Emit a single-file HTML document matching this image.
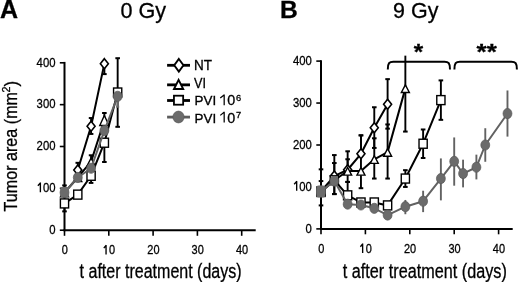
<!DOCTYPE html>
<html><head><meta charset="utf-8"><style>
html,body{margin:0;padding:0;background:#fff;width:520px;height:282px;overflow:hidden}
svg{display:block;will-change:transform}
text{font-family:"Liberation Sans",sans-serif;fill:#000;stroke:#000;stroke-width:0.3px}
</style></head><body>
<svg width="520" height="282" viewBox="0 0 520 282" font-family="Liberation Sans, sans-serif">
<rect width="520" height="282" fill="#fff"/>
<text x="0" y="17.9" font-size="25" text-anchor="start" font-weight="bold">A</text>
<text x="280.1" y="17.6" font-size="24.6" text-anchor="start" font-weight="bold">B</text>
<text x="120.4" y="17.9" font-size="22" text-anchor="start" font-weight="normal" textLength="45.6" lengthAdjust="spacingAndGlyphs">0 Gy</text>
<text x="393.1" y="17.9" font-size="22" text-anchor="start" font-weight="normal" textLength="45.3" lengthAdjust="spacingAndGlyphs">9 Gy</text>
<line x1="64.5" y1="61.9" x2="64.5" y2="231.2" stroke="#000" stroke-width="2"/>
<line x1="63.5" y1="230.2" x2="255.7" y2="230.2" stroke="#000" stroke-width="2"/>
<line x1="59.8" y1="230.2" x2="64.5" y2="230.2" stroke="#000" stroke-width="1.6"/>
<text x="49.2" y="234" font-size="13.6" text-anchor="start" font-weight="normal" textLength="6.3" lengthAdjust="spacingAndGlyphs">0</text>
<line x1="59.8" y1="188.35" x2="64.5" y2="188.35" stroke="#000" stroke-width="1.6"/>
<text x="36.6" y="192.15" font-size="13.6" text-anchor="start" font-weight="normal" textLength="18.9" lengthAdjust="spacingAndGlyphs"> 00</text>
<path d="M40.38,192.15 V182.55 M40.58,182.75 L37.86,185.72" fill="none" stroke="#000" stroke-width="1.35" stroke-linecap="butt"/>
<line x1="59.8" y1="146.5" x2="64.5" y2="146.5" stroke="#000" stroke-width="1.6"/>
<text x="36.6" y="150.3" font-size="13.6" text-anchor="start" font-weight="normal" textLength="18.9" lengthAdjust="spacingAndGlyphs">200</text>
<line x1="59.8" y1="104.65" x2="64.5" y2="104.65" stroke="#000" stroke-width="1.6"/>
<text x="36.6" y="108.45" font-size="13.6" text-anchor="start" font-weight="normal" textLength="18.9" lengthAdjust="spacingAndGlyphs">300</text>
<line x1="59.8" y1="62.8" x2="64.5" y2="62.8" stroke="#000" stroke-width="1.6"/>
<text x="36.6" y="66.6" font-size="13.6" text-anchor="start" font-weight="normal" textLength="18.9" lengthAdjust="spacingAndGlyphs">400</text>
<line x1="64.5" y1="230.2" x2="64.5" y2="235.8" stroke="#000" stroke-width="1.6"/>
<text x="61.75" y="254.4" font-size="13.2" text-anchor="start" font-weight="normal" textLength="6.1" lengthAdjust="spacingAndGlyphs">0</text>
<line x1="108.8" y1="230.2" x2="108.8" y2="235.8" stroke="#000" stroke-width="1.6"/>
<text x="103" y="254.4" font-size="13.2" text-anchor="start" font-weight="normal" textLength="12.2" lengthAdjust="spacingAndGlyphs"> 0</text>
<path d="M106.05,254.4 V245 M106.25,245.2 L103.79,248.1" fill="none" stroke="#000" stroke-width="1.35" stroke-linecap="butt"/>
<line x1="153.1" y1="230.2" x2="153.1" y2="235.8" stroke="#000" stroke-width="1.6"/>
<text x="147.3" y="254.4" font-size="13.2" text-anchor="start" font-weight="normal" textLength="12.2" lengthAdjust="spacingAndGlyphs">20</text>
<line x1="197.4" y1="230.2" x2="197.4" y2="235.8" stroke="#000" stroke-width="1.6"/>
<text x="191.6" y="254.4" font-size="13.2" text-anchor="start" font-weight="normal" textLength="12.2" lengthAdjust="spacingAndGlyphs">30</text>
<line x1="241.7" y1="230.2" x2="241.7" y2="235.8" stroke="#000" stroke-width="1.6"/>
<text x="235.9" y="254.4" font-size="13.2" text-anchor="start" font-weight="normal" textLength="12.2" lengthAdjust="spacingAndGlyphs">40</text>
<line x1="321" y1="60.2" x2="321" y2="229.9" stroke="#000" stroke-width="2"/>
<line x1="320" y1="228.9" x2="512.7" y2="228.9" stroke="#000" stroke-width="2"/>
<line x1="316.3" y1="228.9" x2="321" y2="228.9" stroke="#000" stroke-width="1.6"/>
<text x="305.5" y="232.6" font-size="13.6" text-anchor="start" font-weight="normal" textLength="6.3" lengthAdjust="spacingAndGlyphs">0</text>
<line x1="316.3" y1="186.95" x2="321" y2="186.95" stroke="#000" stroke-width="1.6"/>
<text x="292.9" y="190.65" font-size="13.6" text-anchor="start" font-weight="normal" textLength="18.9" lengthAdjust="spacingAndGlyphs"> 00</text>
<path d="M296.68,190.65 V181.05 M296.88,181.25 L294.16,184.22" fill="none" stroke="#000" stroke-width="1.35" stroke-linecap="butt"/>
<line x1="316.3" y1="145" x2="321" y2="145" stroke="#000" stroke-width="1.6"/>
<text x="292.9" y="148.7" font-size="13.6" text-anchor="start" font-weight="normal" textLength="18.9" lengthAdjust="spacingAndGlyphs">200</text>
<line x1="316.3" y1="103.05" x2="321" y2="103.05" stroke="#000" stroke-width="1.6"/>
<text x="292.9" y="106.75" font-size="13.6" text-anchor="start" font-weight="normal" textLength="18.9" lengthAdjust="spacingAndGlyphs">300</text>
<line x1="316.3" y1="61.1" x2="321" y2="61.1" stroke="#000" stroke-width="1.6"/>
<text x="292.9" y="64.8" font-size="13.6" text-anchor="start" font-weight="normal" textLength="18.9" lengthAdjust="spacingAndGlyphs">400</text>
<line x1="321" y1="228.9" x2="321" y2="234.3" stroke="#000" stroke-width="1.6"/>
<text x="318.25" y="253" font-size="13.2" text-anchor="start" font-weight="normal" textLength="6.1" lengthAdjust="spacingAndGlyphs">0</text>
<line x1="365.4" y1="228.9" x2="365.4" y2="234.3" stroke="#000" stroke-width="1.6"/>
<text x="359.6" y="253" font-size="13.2" text-anchor="start" font-weight="normal" textLength="12.2" lengthAdjust="spacingAndGlyphs"> 0</text>
<path d="M362.65,253 V243.6 M362.85,243.8 L360.39,246.7" fill="none" stroke="#000" stroke-width="1.35" stroke-linecap="butt"/>
<line x1="409.8" y1="228.9" x2="409.8" y2="234.3" stroke="#000" stroke-width="1.6"/>
<text x="404" y="253" font-size="13.2" text-anchor="start" font-weight="normal" textLength="12.2" lengthAdjust="spacingAndGlyphs">20</text>
<line x1="454.2" y1="228.9" x2="454.2" y2="234.3" stroke="#000" stroke-width="1.6"/>
<text x="448.4" y="253" font-size="13.2" text-anchor="start" font-weight="normal" textLength="12.2" lengthAdjust="spacingAndGlyphs">30</text>
<line x1="498.6" y1="228.9" x2="498.6" y2="234.3" stroke="#000" stroke-width="1.6"/>
<text x="492.8" y="253" font-size="13.2" text-anchor="start" font-weight="normal" textLength="12.2" lengthAdjust="spacingAndGlyphs">40</text>
<text x="79.6" y="277.5" font-size="19.5" text-anchor="start" font-weight="normal" textLength="162" lengthAdjust="spacingAndGlyphs">t after treatment (days)</text>
<text x="342.8" y="277.8" font-size="19.5" text-anchor="start" font-weight="normal" textLength="164" lengthAdjust="spacingAndGlyphs">t after treatment (days)</text>
<g transform="translate(16.8,211.4) rotate(-90)"><text x="0" y="0" font-size="19" textLength="119.4" lengthAdjust="spacingAndGlyphs">Tumor area (mm</text><text x="118.8" y="-7.2" font-size="11" textLength="6" lengthAdjust="spacingAndGlyphs">2</text><text x="124.9" y="0" font-size="19" textLength="5.6" lengthAdjust="spacingAndGlyphs">)</text></g>
<line x1="167.1" y1="65.3" x2="190" y2="65.3" stroke="#000" stroke-width="2.8"/>
<polygon points="178.85,58.95 183.45,65.25 178.85,71.55 174.25,65.25" fill="#fff" stroke="#000" stroke-width="1.9" stroke-linejoin="miter"/>
<line x1="167.1" y1="84.85" x2="190" y2="84.85" stroke="#000" stroke-width="2.8"/>
<polygon points="178.6,79.8 183.2,89.05 174,89.05" fill="#fff" stroke="#000" stroke-width="1.9" stroke-linejoin="miter"/>
<line x1="167.1" y1="100.5" x2="190" y2="100.5" stroke="#000" stroke-width="2.8"/>
<rect x="173.95" y="95.7" width="9.2" height="9" fill="#fff" stroke="#000" stroke-width="1.8"/>
<line x1="167.1" y1="117.1" x2="190" y2="117.1" stroke="#5c5c5c" stroke-width="2.8"/>
<ellipse cx="178.5" cy="117" rx="5.6" ry="5.9" fill="#6b6b6b" stroke="#575757" stroke-width="0.7"/>
<text x="194" y="69.6" font-size="13.8" text-anchor="start" font-weight="normal" textLength="18" lengthAdjust="spacingAndGlyphs">NT</text>
<text x="194" y="88" font-size="13.8" text-anchor="start" font-weight="normal" textLength="12" lengthAdjust="spacingAndGlyphs">VI</text>
<text x="194.6" y="105.4" font-size="13.6" text-anchor="start" font-weight="normal" textLength="21.6" lengthAdjust="spacingAndGlyphs">PVI</text>
<text x="219.3" y="105.3" font-size="15" text-anchor="start" font-weight="normal" textLength="16" lengthAdjust="spacingAndGlyphs"> 0</text>
<path d="M224.18,105.3 V94.5 M224.38,94.7 L220.26,98.06" fill="none" stroke="#000" stroke-width="1.25" stroke-linecap="butt"/>
<text x="235.9" y="100.8" font-size="9.6" text-anchor="start" font-weight="normal" textLength="5.2" lengthAdjust="spacingAndGlyphs">6</text>
<text x="194.6" y="122.7" font-size="13.6" text-anchor="start" font-weight="normal" textLength="21.6" lengthAdjust="spacingAndGlyphs">PVI</text>
<text x="219.3" y="122.6" font-size="15" text-anchor="start" font-weight="normal" textLength="16" lengthAdjust="spacingAndGlyphs"> 0</text>
<path d="M224.18,122.6 V111.8 M224.38,112 L220.26,115.36" fill="none" stroke="#000" stroke-width="1.25" stroke-linecap="butt"/>
<text x="235.9" y="118" font-size="9.6" text-anchor="start" font-weight="normal" textLength="5.2" lengthAdjust="spacingAndGlyphs">7</text>
<line x1="77.79" y1="169.94" x2="77.79" y2="162.82" stroke="#000" stroke-width="1.9"/>
<line x1="75.49" y1="162.82" x2="80.09" y2="162.82" stroke="#000" stroke-width="2"/>
<line x1="91.08" y1="126.2" x2="91.08" y2="133.94" stroke="#000" stroke-width="1.9"/>
<line x1="88.78" y1="133.94" x2="93.38" y2="133.94" stroke="#000" stroke-width="2"/>
<line x1="91.08" y1="126.2" x2="91.08" y2="118.04" stroke="#000" stroke-width="1.9"/>
<line x1="88.78" y1="118.04" x2="93.38" y2="118.04" stroke="#000" stroke-width="2"/>
<line x1="104.37" y1="63.64" x2="104.37" y2="74.1" stroke="#000" stroke-width="1.9"/>
<line x1="102.07" y1="74.1" x2="106.67" y2="74.1" stroke="#000" stroke-width="2"/>
<line x1="91.08" y1="161.57" x2="91.08" y2="155.29" stroke="#000" stroke-width="1.9"/>
<line x1="88.78" y1="155.29" x2="93.38" y2="155.29" stroke="#000" stroke-width="2"/>
<line x1="104.37" y1="120.55" x2="104.37" y2="113.02" stroke="#000" stroke-width="1.9"/>
<line x1="102.07" y1="113.02" x2="106.67" y2="113.02" stroke="#000" stroke-width="2"/>
<line x1="64.5" y1="203.42" x2="64.5" y2="211.37" stroke="#000" stroke-width="1.9"/>
<line x1="62.2" y1="211.37" x2="66.8" y2="211.37" stroke="#000" stroke-width="2"/>
<line x1="91.08" y1="175.79" x2="91.08" y2="182.91" stroke="#000" stroke-width="1.9"/>
<line x1="88.78" y1="182.91" x2="93.38" y2="182.91" stroke="#000" stroke-width="2"/>
<line x1="104.37" y1="142.73" x2="104.37" y2="161.98" stroke="#000" stroke-width="1.9"/>
<line x1="102.07" y1="161.98" x2="106.67" y2="161.98" stroke="#000" stroke-width="2"/>
<line x1="117.66" y1="92.51" x2="117.66" y2="126.83" stroke="#000" stroke-width="1.9"/>
<line x1="115.36" y1="126.83" x2="119.96" y2="126.83" stroke="#000" stroke-width="2"/>
<line x1="117.66" y1="92.51" x2="117.66" y2="58.2" stroke="#000" stroke-width="1.9"/>
<line x1="115.36" y1="58.2" x2="119.96" y2="58.2" stroke="#000" stroke-width="2"/>
<line x1="64.5" y1="192.53" x2="64.5" y2="185.42" stroke="#000" stroke-width="1.9"/>
<line x1="62.2" y1="185.42" x2="66.8" y2="185.42" stroke="#000" stroke-width="2"/>
<line x1="117.66" y1="96.28" x2="117.66" y2="106.74" stroke="#6b6b6b" stroke-width="1.9"/>
<line x1="116.16" y1="106.74" x2="119.16" y2="106.74" stroke="#6b6b6b" stroke-width="2"/>
<polyline points="77.79,169.94 91.08,126.2 104.37,63.64" fill="none" stroke="#000" stroke-width="2.0" stroke-linejoin="round"/>
<polyline points="64.5,192.53 77.79,177.47 91.08,161.57 104.37,120.55" fill="none" stroke="#000" stroke-width="2.0" stroke-linejoin="round"/>
<polyline points="64.5,203.42 77.79,194.63 91.08,175.79 104.37,142.73 117.66,92.51" fill="none" stroke="#000" stroke-width="2.0" stroke-linejoin="round"/>
<polygon points="77.79,164.94 81.79,169.94 77.79,174.94 73.79,169.94" fill="#fff" stroke="#000" stroke-width="1.6" stroke-linejoin="miter"/>
<polygon points="91.08,121.2 95.08,126.2 91.08,131.2 87.08,126.2" fill="#fff" stroke="#000" stroke-width="1.6" stroke-linejoin="miter"/>
<polygon points="104.37,58.64 108.37,63.64 104.37,68.64 100.37,63.64" fill="#fff" stroke="#000" stroke-width="1.6" stroke-linejoin="miter"/>
<polygon points="64.5,189.03 68.5,196.69 60.5,196.69" fill="#fff" stroke="#000" stroke-width="1.4" stroke-linejoin="miter"/>
<polygon points="77.79,173.97 81.79,181.62 73.79,181.62" fill="#fff" stroke="#000" stroke-width="1.4" stroke-linejoin="miter"/>
<polygon points="91.08,158.07 95.08,165.72 87.08,165.72" fill="#fff" stroke="#000" stroke-width="1.4" stroke-linejoin="miter"/>
<polygon points="104.37,115.45 108.97,125.45 99.77,125.45" fill="#fff" stroke="#000" stroke-width="1.4" stroke-linejoin="miter"/>
<rect x="60.4" y="198.92" width="8.2" height="9" fill="#fff" stroke="#000" stroke-width="1.4"/>
<rect x="73.69" y="190.13" width="8.2" height="9" fill="#fff" stroke="#000" stroke-width="1.4"/>
<rect x="86.98" y="171.29" width="8.2" height="9" fill="#fff" stroke="#000" stroke-width="1.4"/>
<rect x="100.27" y="138.23" width="8.2" height="9" fill="#fff" stroke="#000" stroke-width="1.4"/>
<rect x="113.56" y="88.01" width="8.2" height="9" fill="#fff" stroke="#000" stroke-width="1.4"/>
<polyline points="64.5,192.53 77.79,177.47 91.08,168.26 104.37,130.6 117.66,96.28" fill="none" stroke="#626262" stroke-width="2.0" stroke-linejoin="round"/>
<ellipse cx="64.5" cy="192.53" rx="4.45" ry="5.1" fill="#6b6b6b" stroke="#575757" stroke-width="0.7"/>
<ellipse cx="77.79" cy="177.47" rx="4.45" ry="5.1" fill="#6b6b6b" stroke="#575757" stroke-width="0.7"/>
<ellipse cx="91.08" cy="168.26" rx="4.45" ry="5.1" fill="#6b6b6b" stroke="#575757" stroke-width="0.7"/>
<ellipse cx="104.37" cy="130.6" rx="4.45" ry="5.1" fill="#6b6b6b" stroke="#575757" stroke-width="0.7"/>
<ellipse cx="117.66" cy="96.28" rx="4.45" ry="5.1" fill="#6b6b6b" stroke="#575757" stroke-width="0.7"/>
<rect x="60.3" y="187" width="8.6" height="10.2" rx="1.5" fill="#6b6b6b"/>
<line x1="334.32" y1="176.04" x2="334.32" y2="155.07" stroke="#000" stroke-width="1.9"/>
<line x1="332.02" y1="155.07" x2="336.62" y2="155.07" stroke="#000" stroke-width="2"/>
<line x1="347.64" y1="169.75" x2="347.64" y2="151.29" stroke="#000" stroke-width="1.9"/>
<line x1="345.34" y1="151.29" x2="349.94" y2="151.29" stroke="#000" stroke-width="2"/>
<line x1="360.96" y1="153.81" x2="360.96" y2="135.35" stroke="#000" stroke-width="1.9"/>
<line x1="358.66" y1="135.35" x2="363.26" y2="135.35" stroke="#000" stroke-width="2"/>
<line x1="374.28" y1="127.8" x2="374.28" y2="147.94" stroke="#000" stroke-width="1.9"/>
<line x1="371.98" y1="147.94" x2="376.58" y2="147.94" stroke="#000" stroke-width="2"/>
<line x1="374.28" y1="127.8" x2="374.28" y2="107.25" stroke="#000" stroke-width="1.9"/>
<line x1="371.98" y1="107.25" x2="376.58" y2="107.25" stroke="#000" stroke-width="2"/>
<line x1="387.6" y1="104.31" x2="387.6" y2="128.64" stroke="#000" stroke-width="1.9"/>
<line x1="385.3" y1="128.64" x2="389.9" y2="128.64" stroke="#000" stroke-width="2"/>
<line x1="387.6" y1="104.31" x2="387.6" y2="79.14" stroke="#000" stroke-width="1.9"/>
<line x1="385.3" y1="79.14" x2="389.9" y2="79.14" stroke="#000" stroke-width="2"/>
<line x1="321" y1="191.15" x2="321" y2="205.41" stroke="#000" stroke-width="1.9"/>
<line x1="318.7" y1="205.41" x2="323.3" y2="205.41" stroke="#000" stroke-width="2"/>
<line x1="321" y1="191.15" x2="321" y2="169.33" stroke="#000" stroke-width="1.9"/>
<line x1="318.7" y1="169.33" x2="323.3" y2="169.33" stroke="#000" stroke-width="2"/>
<line x1="321" y1="191.15" x2="321" y2="181.08" stroke="#000" stroke-width="1.9"/>
<line x1="318.7" y1="181.08" x2="323.3" y2="181.08" stroke="#000" stroke-width="2"/>
<line x1="334.32" y1="180.24" x2="334.32" y2="194.08" stroke="#000" stroke-width="1.9"/>
<line x1="332.02" y1="194.08" x2="336.62" y2="194.08" stroke="#000" stroke-width="2"/>
<line x1="334.32" y1="180.24" x2="334.32" y2="163.04" stroke="#000" stroke-width="1.9"/>
<line x1="332.02" y1="163.04" x2="336.62" y2="163.04" stroke="#000" stroke-width="2"/>
<line x1="347.64" y1="171.01" x2="347.64" y2="181.92" stroke="#000" stroke-width="1.9"/>
<line x1="345.34" y1="181.92" x2="349.94" y2="181.92" stroke="#000" stroke-width="2"/>
<line x1="347.64" y1="171.01" x2="347.64" y2="159.26" stroke="#000" stroke-width="1.9"/>
<line x1="345.34" y1="159.26" x2="349.94" y2="159.26" stroke="#000" stroke-width="2"/>
<line x1="360.96" y1="171.01" x2="360.96" y2="188.21" stroke="#000" stroke-width="1.9"/>
<line x1="358.66" y1="188.21" x2="363.26" y2="188.21" stroke="#000" stroke-width="2"/>
<line x1="360.96" y1="171.01" x2="360.96" y2="135.35" stroke="#000" stroke-width="1.9"/>
<line x1="358.66" y1="135.35" x2="363.26" y2="135.35" stroke="#000" stroke-width="2"/>
<line x1="374.28" y1="159.26" x2="374.28" y2="178.56" stroke="#000" stroke-width="1.9"/>
<line x1="371.98" y1="178.56" x2="376.58" y2="178.56" stroke="#000" stroke-width="2"/>
<line x1="374.28" y1="159.26" x2="374.28" y2="138.29" stroke="#000" stroke-width="1.9"/>
<line x1="371.98" y1="138.29" x2="376.58" y2="138.29" stroke="#000" stroke-width="2"/>
<line x1="387.6" y1="152.13" x2="387.6" y2="178.56" stroke="#000" stroke-width="1.9"/>
<line x1="385.3" y1="178.56" x2="389.9" y2="178.56" stroke="#000" stroke-width="2"/>
<line x1="387.6" y1="152.13" x2="387.6" y2="124.44" stroke="#000" stroke-width="1.9"/>
<line x1="385.3" y1="124.44" x2="389.9" y2="124.44" stroke="#000" stroke-width="2"/>
<line x1="405.36" y1="88.37" x2="405.36" y2="131.58" stroke="#000" stroke-width="1.9"/>
<line x1="403.06" y1="131.58" x2="407.66" y2="131.58" stroke="#000" stroke-width="2"/>
<line x1="405.36" y1="88.37" x2="405.36" y2="55.65" stroke="#000" stroke-width="1.9"/>
<line x1="347.64" y1="195.34" x2="347.64" y2="181.92" stroke="#000" stroke-width="1.9"/>
<line x1="345.34" y1="181.92" x2="349.94" y2="181.92" stroke="#000" stroke-width="2"/>
<line x1="405.36" y1="178.56" x2="405.36" y2="186.95" stroke="#000" stroke-width="1.9"/>
<line x1="403.06" y1="186.95" x2="407.66" y2="186.95" stroke="#000" stroke-width="2"/>
<line x1="405.36" y1="178.56" x2="405.36" y2="170.17" stroke="#000" stroke-width="1.9"/>
<line x1="403.06" y1="170.17" x2="407.66" y2="170.17" stroke="#000" stroke-width="2"/>
<line x1="423.12" y1="143.74" x2="423.12" y2="158" stroke="#000" stroke-width="1.9"/>
<line x1="420.82" y1="158" x2="425.42" y2="158" stroke="#000" stroke-width="2"/>
<line x1="423.12" y1="143.74" x2="423.12" y2="129.48" stroke="#000" stroke-width="1.9"/>
<line x1="420.82" y1="129.48" x2="425.42" y2="129.48" stroke="#000" stroke-width="2"/>
<line x1="440.88" y1="100.11" x2="440.88" y2="119.83" stroke="#000" stroke-width="1.9"/>
<line x1="438.58" y1="119.83" x2="443.18" y2="119.83" stroke="#000" stroke-width="2"/>
<line x1="440.88" y1="100.11" x2="440.88" y2="80.4" stroke="#000" stroke-width="1.9"/>
<line x1="438.58" y1="80.4" x2="443.18" y2="80.4" stroke="#000" stroke-width="2"/>
<line x1="334.32" y1="180.24" x2="334.32" y2="194.08" stroke="#000" stroke-width="1.9"/>
<line x1="332.02" y1="194.08" x2="336.62" y2="194.08" stroke="#000" stroke-width="2"/>
<polyline points="321,191.15 334.32,176.04 347.64,169.75 360.96,153.81 374.28,127.8 387.6,104.31" fill="none" stroke="#000" stroke-width="2.0" stroke-linejoin="round"/>
<polyline points="321,191.15 334.32,180.24 347.64,171.01 360.96,171.01 374.28,159.26 387.6,152.13 405.36,88.37" fill="none" stroke="#000" stroke-width="2.0" stroke-linejoin="round"/>
<polyline points="321,191.98 334.32,180.24 347.64,195.34 360.96,202.47 374.28,202.47 387.6,205.41 405.36,178.56 423.12,143.74 440.88,100.11" fill="none" stroke="#000" stroke-width="2.0" stroke-linejoin="round"/>
<polygon points="321,186.15 325,191.15 321,196.15 317,191.15" fill="#fff" stroke="#000" stroke-width="1.6" stroke-linejoin="miter"/>
<polygon points="334.32,171.04 338.32,176.04 334.32,181.04 330.32,176.04" fill="#fff" stroke="#000" stroke-width="1.6" stroke-linejoin="miter"/>
<polygon points="347.64,164.75 351.64,169.75 347.64,174.75 343.64,169.75" fill="#fff" stroke="#000" stroke-width="1.6" stroke-linejoin="miter"/>
<polygon points="360.96,148.81 364.96,153.81 360.96,158.81 356.96,153.81" fill="#fff" stroke="#000" stroke-width="1.6" stroke-linejoin="miter"/>
<polygon points="374.28,122.8 378.28,127.8 374.28,132.8 370.28,127.8" fill="#fff" stroke="#000" stroke-width="1.6" stroke-linejoin="miter"/>
<polygon points="387.6,99.31 391.6,104.31 387.6,109.31 383.6,104.31" fill="#fff" stroke="#000" stroke-width="1.6" stroke-linejoin="miter"/>
<polygon points="321,187.65 325,195.3 317,195.3" fill="#fff" stroke="#000" stroke-width="1.4" stroke-linejoin="miter"/>
<polygon points="334.32,176.74 338.32,184.39 330.32,184.39" fill="#fff" stroke="#000" stroke-width="1.4" stroke-linejoin="miter"/>
<polygon points="347.64,167.51 351.64,175.16 343.64,175.16" fill="#fff" stroke="#000" stroke-width="1.4" stroke-linejoin="miter"/>
<polygon points="360.96,167.51 364.96,175.16 356.96,175.16" fill="#fff" stroke="#000" stroke-width="1.4" stroke-linejoin="miter"/>
<polygon points="374.28,155.76 378.28,163.41 370.28,163.41" fill="#fff" stroke="#000" stroke-width="1.4" stroke-linejoin="miter"/>
<polygon points="387.6,148.63 391.6,156.28 383.6,156.28" fill="#fff" stroke="#000" stroke-width="1.4" stroke-linejoin="miter"/>
<polygon points="405.36,84.87 409.36,92.52 401.36,92.52" fill="#fff" stroke="#000" stroke-width="1.4" stroke-linejoin="miter"/>
<rect x="316.9" y="187.48" width="8.2" height="9" fill="#fff" stroke="#000" stroke-width="1.4"/>
<rect x="330.22" y="175.74" width="8.2" height="9" fill="#fff" stroke="#000" stroke-width="1.4"/>
<rect x="343.54" y="190.84" width="8.2" height="9" fill="#fff" stroke="#000" stroke-width="1.4"/>
<rect x="356.86" y="197.97" width="8.2" height="9" fill="#fff" stroke="#000" stroke-width="1.4"/>
<rect x="370.18" y="197.97" width="8.2" height="9" fill="#fff" stroke="#000" stroke-width="1.4"/>
<rect x="383.5" y="200.91" width="8.2" height="9" fill="#fff" stroke="#000" stroke-width="1.4"/>
<rect x="401.26" y="174.06" width="8.2" height="9" fill="#fff" stroke="#000" stroke-width="1.4"/>
<rect x="419.02" y="139.24" width="8.2" height="9" fill="#fff" stroke="#000" stroke-width="1.4"/>
<rect x="436.78" y="95.61" width="8.2" height="9" fill="#fff" stroke="#000" stroke-width="1.4"/>
<line x1="405.36" y1="206.67" x2="405.36" y2="214.22" stroke="#626262" stroke-width="1.9"/>
<line x1="405.36" y1="206.67" x2="405.36" y2="199.95" stroke="#626262" stroke-width="1.9"/>
<line x1="423.12" y1="201.21" x2="423.12" y2="212.12" stroke="#626262" stroke-width="1.9"/>
<line x1="423.12" y1="201.21" x2="423.12" y2="190.73" stroke="#626262" stroke-width="1.9"/>
<line x1="440.88" y1="178.56" x2="440.88" y2="200.37" stroke="#626262" stroke-width="1.9"/>
<line x1="440.88" y1="178.56" x2="440.88" y2="158.42" stroke="#626262" stroke-width="1.9"/>
<line x1="454.2" y1="161.36" x2="454.2" y2="185.69" stroke="#626262" stroke-width="1.9"/>
<line x1="454.2" y1="161.36" x2="454.2" y2="137.45" stroke="#626262" stroke-width="1.9"/>
<line x1="463.08" y1="173.53" x2="463.08" y2="187.37" stroke="#626262" stroke-width="1.9"/>
<line x1="463.08" y1="173.53" x2="463.08" y2="159.68" stroke="#626262" stroke-width="1.9"/>
<line x1="476.4" y1="167.23" x2="476.4" y2="179.4" stroke="#626262" stroke-width="1.9"/>
<line x1="476.4" y1="167.23" x2="476.4" y2="154.65" stroke="#626262" stroke-width="1.9"/>
<line x1="485.28" y1="145" x2="485.28" y2="161.78" stroke="#626262" stroke-width="1.9"/>
<line x1="485.28" y1="145" x2="485.28" y2="128.22" stroke="#626262" stroke-width="1.9"/>
<line x1="507.48" y1="113.54" x2="507.48" y2="136.61" stroke="#626262" stroke-width="1.9"/>
<line x1="507.48" y1="113.54" x2="507.48" y2="90.47" stroke="#626262" stroke-width="1.9"/>
<polyline points="321,191.15 334.32,181.08 347.64,204.15 360.96,204.99 374.28,208.34 387.6,215.06 405.36,206.67 423.12,201.21 440.88,178.56 454.2,161.36 463.08,173.53 476.4,167.23 485.28,145 507.48,113.54" fill="none" stroke="#626262" stroke-width="2.0" stroke-linejoin="round"/>
<ellipse cx="321" cy="191.15" rx="4.45" ry="5.1" fill="#6b6b6b" stroke="#575757" stroke-width="0.7"/>
<ellipse cx="334.32" cy="181.08" rx="4.45" ry="5.1" fill="#6b6b6b" stroke="#575757" stroke-width="0.7"/>
<ellipse cx="347.64" cy="204.15" rx="4.45" ry="5.1" fill="#6b6b6b" stroke="#575757" stroke-width="0.7"/>
<ellipse cx="360.96" cy="204.99" rx="4.45" ry="5.1" fill="#6b6b6b" stroke="#575757" stroke-width="0.7"/>
<ellipse cx="374.28" cy="208.34" rx="4.45" ry="5.1" fill="#6b6b6b" stroke="#575757" stroke-width="0.7"/>
<ellipse cx="387.6" cy="215.06" rx="4.45" ry="5.1" fill="#6b6b6b" stroke="#575757" stroke-width="0.7"/>
<ellipse cx="405.36" cy="206.67" rx="4.45" ry="5.1" fill="#6b6b6b" stroke="#575757" stroke-width="0.7"/>
<ellipse cx="423.12" cy="201.21" rx="4.45" ry="5.1" fill="#6b6b6b" stroke="#575757" stroke-width="0.7"/>
<ellipse cx="440.88" cy="178.56" rx="4.45" ry="5.1" fill="#6b6b6b" stroke="#575757" stroke-width="0.7"/>
<ellipse cx="454.2" cy="161.36" rx="4.45" ry="5.1" fill="#6b6b6b" stroke="#575757" stroke-width="0.7"/>
<ellipse cx="463.08" cy="173.53" rx="4.45" ry="5.1" fill="#6b6b6b" stroke="#575757" stroke-width="0.7"/>
<ellipse cx="476.4" cy="167.23" rx="4.45" ry="5.1" fill="#6b6b6b" stroke="#575757" stroke-width="0.7"/>
<ellipse cx="485.28" cy="145" rx="4.45" ry="5.1" fill="#6b6b6b" stroke="#575757" stroke-width="0.7"/>
<ellipse cx="507.48" cy="113.54" rx="4.45" ry="5.1" fill="#6b6b6b" stroke="#575757" stroke-width="0.7"/>
<rect x="316.4" y="185.4" width="8.8" height="12.2" rx="2" fill="#6b6b6b"/>
<path d="M387.8,69.4 C387.8,63.2 389.3,61.7 393.3,61.7 H444.5 C448.5,61.7 450,63.2 450,69.4" fill="none" stroke="#000" stroke-width="2"/>
<path d="M454.4,69.4 C454.4,63.2 455.9,61.7 459.9,61.7 H511.4 C515.4,61.7 516.9,63.2 516.9,69.4" fill="none" stroke="#000" stroke-width="2"/>
<text x="418.4" y="58.6" font-size="22.5" text-anchor="middle" font-weight="bold" textLength="9.4" lengthAdjust="spacingAndGlyphs">*</text>
<text x="486.7" y="58.6" font-size="22.5" text-anchor="middle" font-weight="bold" textLength="20.2" lengthAdjust="spacingAndGlyphs">**</text>
</svg>
</body></html>
